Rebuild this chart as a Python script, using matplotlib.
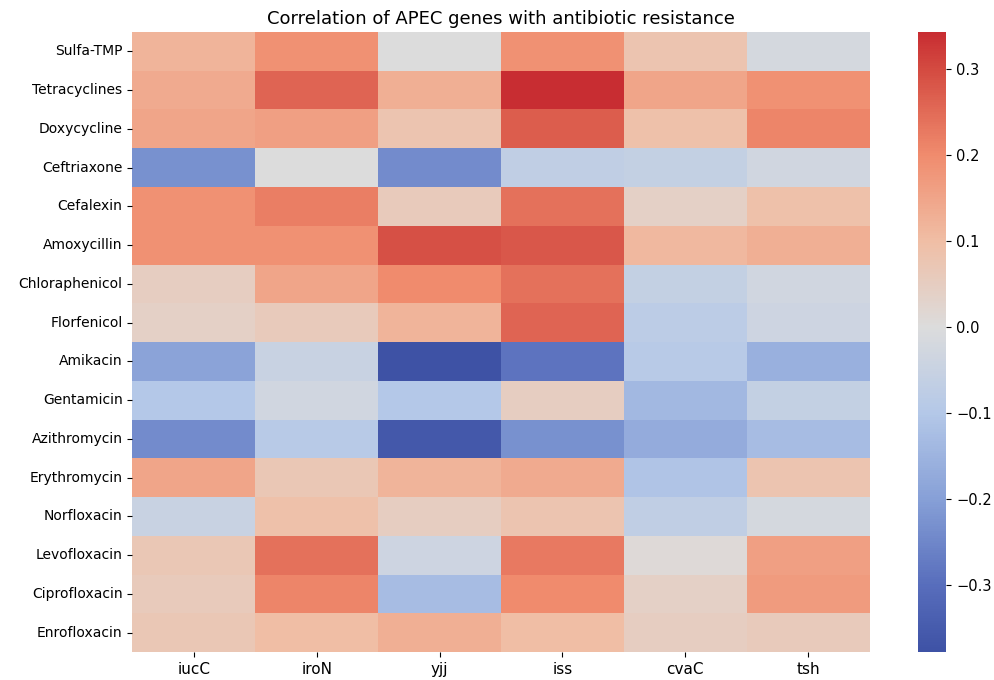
import matplotlib
matplotlib.use("Agg")
import matplotlib.pyplot as plt
from matplotlib.colors import LinearSegmentedColormap
import numpy as np
import pandas as pd
import seaborn as sns

genes = ["iucC", "iroN", "yjj", "iss", "cvaC", "tsh"]
antibiotics = ["Sulfa-TMP", "Tetracyclines", "Doxycycline", "Ceftriaxone", "Cefalexin",
               "Amoxycillin", "Chloraphenicol", "Florfenicol", "Amikacin", "Gentamicin",
               "Azithromycin", "Erythromycin", "Norfloxacin", "Levofloxacin",
               "Ciprofloxacin", "Enrofloxacin"]

# correlation values, one list per antibiotic (columns = genes)
sulfa = [0.12, 0.19, 0.00, 0.19, 0.08, -0.02]
tetra = [0.14, 0.26, 0.13, 0.343, 0.15, 0.19]
doxy = [0.15, 0.16, 0.08, 0.27, 0.09, 0.21]
ceftri = [-0.23, 0.00, -0.24, -0.07, -0.06, -0.03]
cefal = [0.19, 0.22, 0.06, 0.24, 0.04, 0.09]
amoxy = [0.19, 0.19, 0.29, 0.28, 0.11, 0.13]
chlor = [0.05, 0.15, 0.20, 0.24, -0.06, -0.03]
florf = [0.04, 0.06, 0.12, 0.26, -0.08, -0.04]
amik = [-0.19, -0.05, -0.378, -0.29, -0.09, -0.16]
genta = [-0.10, -0.03, -0.10, 0.05, -0.14, -0.06]
azith = [-0.24, -0.09, -0.36, -0.23, -0.17, -0.13]
eryth = [0.15, 0.07, 0.12, 0.14, -0.11, 0.08]
norf = [-0.05, 0.09, 0.05, 0.08, -0.07, -0.02]
levo = [0.07, 0.24, -0.04, 0.23, 0.01, 0.16]
cipro = [0.06, 0.21, -0.13, 0.20, 0.04, 0.17]
enro = [0.07, 0.10, 0.13, 0.10, 0.05, 0.06]

rows = [sulfa, tetra, doxy, ceftri, cefal, amoxy, chlor, florf, amik, genta,
        azith, eryth, norf, levo, cipro, enro]
df = pd.DataFrame(rows, index=antibiotics, columns=genes)

# coolwarm, a bit washed out like the source image
vmin, vmax = -0.378, 0.343
anchors = [
    (vmin, (62, 82, 165)),
    (-0.3, (88, 110, 188)),
    (-0.2, (135, 160, 215)),
    (-0.1, (180, 200, 232)),
    (0.0, (220, 220, 220)),
    (0.1, (240, 190, 165)),
    (0.2, (240, 140, 110)),
    (0.3, (212, 75, 65)),
    (vmax, (200, 45, 50)),
]
cmap = LinearSegmentedColormap.from_list(
    "cw", [((v - vmin) / (vmax - vmin), tuple(c / 255 for c in rgb)) for v, rgb in anchors])

fig = plt.figure(figsize=(9.95, 6.8), dpi=100)
ax = fig.add_axes([0.133, 0.041, 0.741, 0.912])
cax = fig.add_axes([0.923, 0.041, 0.028, 0.912])
sns.heatmap(df, cmap=cmap, vmin=vmin, vmax=vmax, ax=ax, cbar_ax=cax)
ax.set_title("Correlation of APEC genes with antibiotic resistance", fontsize=13)
ax.tick_params(axis="y", labelsize=10)
ax.tick_params(axis="x", labelsize=11)
ax.set_yticklabels(antibiotics, rotation=0)
ax.set_xticklabels(genes, rotation=0)
cax.tick_params(labelsize=10.5)
for s in cax.spines.values():
    s.set_visible(False)

fig.savefig("out.png", dpi=100)
